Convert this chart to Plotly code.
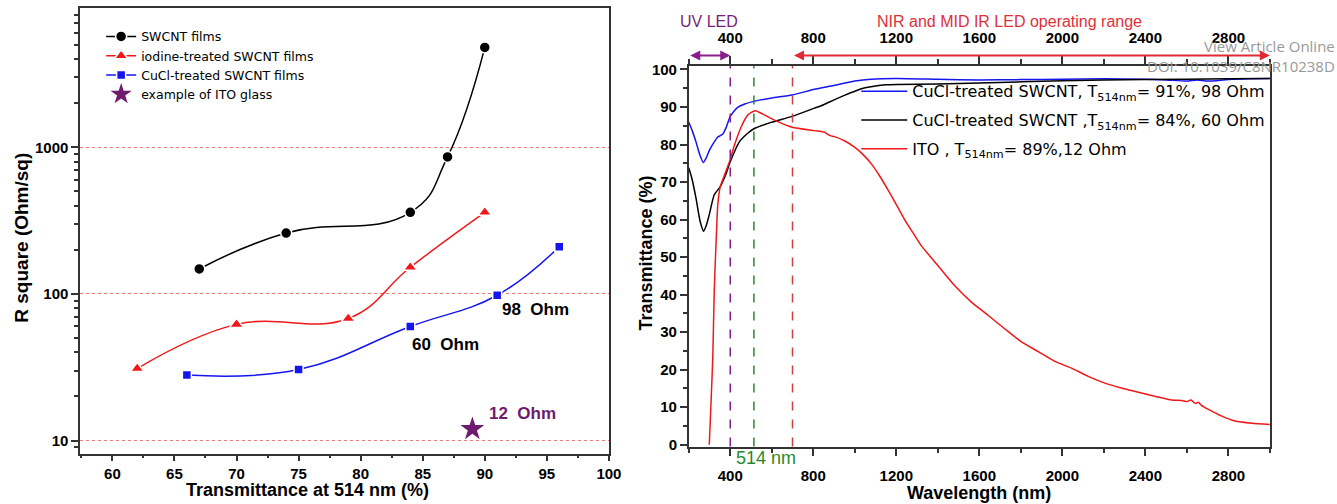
import numpy as np
import plotly.graph_objects as go

# reference picture size (all pixel positions below are measured on it)
W, H = 1337, 504
FIG_W, FIG_H = 1352, 510
FONT = "Arial, Liberation Sans, sans-serif"
LFONT = "DejaVu Sans, sans-serif"

# ---------------- Left panel data ----------------
swcnt_T = [67, 74, 84, 87, 90]
swcnt_R = [148, 260, 360, 860, 4800]
iodine_T = [62, 70, 79, 84, 90]
iodine_R = [31, 62, 68, 152, 360]
cucl_T = [66, 75, 84, 91, 96]
cucl_R = [28, 30.5, 60, 98, 210]
ito_T = [89]
ito_R = [12]
left_xticks = [60, 65, 70, 75, 80, 85, 90, 95, 100]
left_yticks = [10, 100, 1000]
ohm_labels = ["98\u00a0\u00a0Ohm", "60\u00a0\u00a0Ohm", "12\u00a0\u00a0Ohm"]
ohm_label_pos = [(91.2, 78), (84.0, 45), (90.2, 15.2)]

# ---------------- Right panel data ----------------
blue_wl = [200, 218, 235, 255, 270, 285, 300, 323, 340, 350, 364, 380, 400, 420, 436, 470, 514, 600, 698,
           806, 886, 1000, 1079, 1200, 1400, 1600, 1800, 2000, 2200, 2400, 2500, 2600, 2650, 2700, 2800, 2900, 3000]
blue_T = [86.0, 83.5, 80.7, 77.0, 75.2, 76.5, 78.5, 80.7, 82.0, 82.3, 82.8, 84.5, 87.5, 89.0, 89.9, 90.8, 91.5, 92.4, 93.2,
          94.7, 95.6, 96.9, 97.4, 97.6, 97.4, 97.2, 97.3, 97.4, 97.5, 97.4, 97.2, 96.9, 97.2, 96.9, 97.3, 97.5, 97.6]
black_wl = [200, 215, 235, 255, 272, 285, 299, 323, 352, 377, 400, 444, 480, 514, 597, 698, 806, 850, 900, 950,
            1000, 1050, 1100, 1150, 1200, 1400, 1600, 2000, 2400, 2800, 3000]
black_T = [73.8, 71.0, 65.7, 59.5, 56.9, 58.5, 61.3, 66.6, 68.8, 71.8, 75.4, 80.7, 82.8, 84.2, 85.9, 87.5, 89.7, 90.6, 91.9,
           93.1, 94.2, 95.1, 95.6, 95.9, 96.0, 96.1, 96.4, 97.0, 97.3, 97.5, 97.6]
red_wl = [299, 308, 316, 323, 332, 340, 352, 372, 396, 420, 452, 485, 520, 557, 613, 698, 806, 854, 870, 886, 902,
          950, 999, 1040, 1079, 1120, 1160, 1200, 1240, 1280, 1321, 1361, 1401, 1481, 1562, 1642, 1722, 1803,
          1884, 1964, 2044, 2125, 2205, 2285, 2366, 2446, 2527, 2575, 2600, 2620, 2640, 2655, 2670, 2704, 2768,
          2832, 2913, 3000]
red_T = [0, 12, 23.5, 41.1, 54.3, 63.9, 68.8, 71.8, 75.4, 79.8, 84.6, 87.9, 89.0, 88.1, 86.5, 84.6, 83.7, 83.3, 82.7, 82.3,
         82.1, 81.0, 79.3, 77.3, 74.9, 71.6, 67.9, 64.0, 60.0, 56.5, 53.0, 50.3, 47.7, 42.4, 38.0, 34.5, 30.9, 27.4,
         24.8, 22.2, 20.4, 18.2, 16.4, 15.1, 14.0, 12.9, 11.9, 11.8, 11.5, 11.9, 11.0, 11.3, 10.5, 9.4, 7.6,
         6.3, 5.7, 5.4]
right_xticks = [400, 800, 1200, 1600, 2000, 2400, 2800]
right_yticks = [0, 10, 20, 30, 40, 50, 60, 70, 80, 90, 100]
marker_lines_wl = [400, 514, 700]
marker_lines_col = ["#8a1e8a", "#2a8a2a", "#d04040"]
uv_range = [200, 400]
nir_range = [700, 3000]
legend2_names = [
    "CuCl-treated SWCNT, T<sub>514nm</sub>= 91%, 98 Ohm",
    "CuCl-treated SWCNT ,T<sub>514nm</sub>= 84%, 60 Ohm",
    "ITO , T<sub>514nm</sub>= 89%,12 Ohm",
]

RED = "#f01818"
BLUE = "#1515f0"
PURPLE = "#6e1a6e"


def px_x(p):
    return p / W


def px_y(p):
    return 1 - p / H


def bold(vals):
    return ["<b>%s</b>" % v for v in vals]


fig = go.Figure()

# left panel traces
fig.add_trace(go.Scatter(x=swcnt_T, y=swcnt_R, mode="lines+markers", name="SWCNT films",
                         line=dict(color="black", width=1.5, shape="spline", smoothing=1.3),
                         marker=dict(symbol="circle", size=11, color="black", line=dict(color="white", width=1.5)),
                         xaxis="x", yaxis="y", legend="legend"))
fig.add_trace(go.Scatter(x=iodine_T, y=iodine_R, mode="lines+markers", name="iodine-treated SWCNT films",
                         line=dict(color=RED, width=1.5, shape="spline", smoothing=1.2),
                         marker=dict(symbol="triangle-up", size=12, color=RED, line=dict(color="white", width=1.5)),
                         xaxis="x", yaxis="y", legend="legend"))
fig.add_trace(go.Scatter(x=cucl_T, y=cucl_R, mode="lines+markers", name="CuCl-treated SWCNT films",
                         line=dict(color=BLUE, width=1.5, shape="spline", smoothing=1.2),
                         marker=dict(symbol="square", size=9, color=BLUE, line=dict(color="white", width=1.5)),
                         xaxis="x", yaxis="y", legend="legend"))
fig.add_trace(go.Scatter(x=ito_T, y=ito_R, mode="markers", name="example of ITO glass",
                         marker=dict(symbol="star", size=18, color=PURPLE),
                         xaxis="x", yaxis="y", legend="legend"))

# right panel traces
for wl, T, col, nm, grp in [(blue_wl, blue_T, BLUE, legend2_names[0], "a"),
                            (black_wl, black_T, "black", legend2_names[1], "b"),
                            (red_wl, red_T, RED, legend2_names[2], "c")]:
    fig.add_trace(go.Scatter(x=wl, y=T, mode="lines", name=nm, legendgroup=grp,
                             line=dict(color=col, width=1.5, shape="spline", smoothing=0.6),
                             xaxis="x2", yaxis="y2", legend="legend2"))

axis_common = dict(showline=True, linecolor="#333333", linewidth=1.5, ticks="outside",
                   tickcolor="#333333", tickwidth=1.5, zeroline=False,
                   tickfont=dict(family="Liberation Sans, Arial, sans-serif", size=15, color="black",
                                 weight=700))

minor_log = [m * 10 ** k for k in range(0, 4) for m in range(2, 10)]

fig.update_layout(
    width=FIG_W, height=FIG_H, autosize=False, margin=dict(l=0, r=0, t=0, b=0, pad=0),
    paper_bgcolor="white", plot_bgcolor="white",
    font=dict(family=FONT, color="black"),
    showlegend=True,
    xaxis=dict(domain=[px_x(80), px_x(608)], range=[57.4, 100], tickvals=left_xticks,
               ticktext=bold(left_xticks), ticklen=6,
               minor=dict(dtick=2.5, tick0=60, ticks="outside", ticklen=3, tickcolor="#333333"),
               mirror=True, showgrid=False, anchor="y", **axis_common),
    yaxis=dict(domain=[px_y(453), px_y(3)], type="log", range=[0.912, 3.95], tickvals=left_yticks,
               ticktext=bold(left_yticks), ticklen=7,
               minor=dict(tickvals=minor_log, ticks="outside", ticklen=4, tickcolor="#333333", showgrid=False),
               mirror=True, showgrid=True, gridcolor="#f07a7a", griddash="dot", gridwidth=1.2, anchor="x",
               **axis_common),
    xaxis2=dict(domain=[px_x(687.7), px_x(1268)], range=[200, 3000], tickvals=right_xticks,
                ticktext=bold(right_xticks), ticklen=8, ticklabelstandoff=7,
                minor=dict(dtick=200, tick0=200, ticks="outside", ticklen=5, tickcolor="#333333"),
                showgrid=False, anchor="y2", **axis_common),
    xaxis3=dict(range=[200, 3000], tickvals=right_xticks, ticktext=bold(right_xticks), ticklen=8,
                side="top", overlaying="x2", ticklabelstandoff=7,
                minor=dict(dtick=200, tick0=200, ticks="outside", ticklen=5, tickcolor="#333333"),
                showgrid=False, anchor="y2", **axis_common),
    yaxis2=dict(domain=[px_y(446), px_y(61.7)], range=[-0.5, 100.9], tickvals=right_yticks,
                ticktext=bold(right_yticks), ticklen=7,
                minor=dict(dtick=5, tick0=0, ticks="outside", ticklen=4, tickcolor="#333333"),
                mirror=True, showgrid=False, anchor="x2", **axis_common),
    legend=dict(x=px_x(101), y=px_y(17), xanchor="left", yanchor="top", bgcolor="rgba(0,0,0,0)",
                font=dict(family=LFONT, size=12.5, color="black"), tracegroupgap=0, itemwidth=30),
    legend2=dict(x=px_x(855), y=px_y(70), xanchor="left", yanchor="top", bgcolor="rgba(0,0,0,0)",
                 font=dict(family=LFONT, size=16, color="black"), tracegroupgap=5, itemwidth=46),
)

# dummy trace to activate xaxis3
fig.add_trace(go.Scatter(x=[200, 3000], y=[None, None], xaxis="x3", yaxis="y2", showlegend=False,
                         hoverinfo="skip", mode="lines"))

annotations = []
ohm_cols = ["black", "black", PURPLE]
for txt, (xv, yv), c in zip(ohm_labels, ohm_label_pos, ohm_cols):
    annotations.append(dict(x=xv, y=np.log10(yv), xref="x", yref="y", text="<b>%s</b>" % txt, showarrow=False,
                            xanchor="left", yanchor="middle",
                            font=dict(family=FONT, size=17, color=c)))


def label(x, y, text, size, color="black", angle=0, xanchor="center", xref="paper", family=FONT):
    return dict(x=x, y=y, xref=xref, yref="paper", text=text, showarrow=False, textangle=angle,
                xanchor=xanchor, yanchor="middle", font=dict(family=family, size=size, color=color))


annotations += [
    label(px_x(307), px_y(490), "<b>Transmittance at 514 nm (%)</b>", 18),
    label(px_x(22), px_y(235), "<b>R square (Ohm/sq)</b>", 19, angle=-90),
    label(px_x(978), px_y(493), "<b>Wavelength (nm)</b>", 18),
    label(px_x(645), px_y(250), "<b>Transmittance (%)</b>", 18, angle=-90),
    label(420, px_y(458), "514 nm", 18, color="#2a8a2a", xanchor="left", xref="x2"),
    label(300, px_y(17), "UV LED", 16, color="#7a1f7a", xref="x2"),
    label(1745, px_y(17), "NIR and MID IR LED operating range", 16, color="#e0303a", xref="x2"),
    label(px_x(1335), px_y(41), "View Article Online", 15, color="#999999", xanchor="right", family="Open Sans"),
    label(px_x(1335), px_y(62), "DOI: 10.1039/C8NR10238D", 15, color="#999999", xanchor="right",
          family="Open Sans"),
]
for rng, col in [(uv_range, "#8a1e8a"), (nir_range, "#e02a35")]:
    annotations.append(dict(x=rng[1], y=px_y(51), xref="x2", yref="paper", ax=rng[0], ay=0, axref="x2",
                            ayref="pixel", showarrow=True, arrowhead=2, startarrowhead=2, arrowside="end+start",
                            arrowsize=1, arrowwidth=2, arrowcolor=col, text=""))
fig.update_layout(annotations=annotations)

for wl, col in zip(marker_lines_wl, marker_lines_col):
    fig.add_shape(type="line", x0=wl, x1=wl, y0=0, y1=1, xref="x2", yref="y2 domain",
                  line=dict(color=col, width=1.5, dash="dash"))

fig.write_html("out.html")
